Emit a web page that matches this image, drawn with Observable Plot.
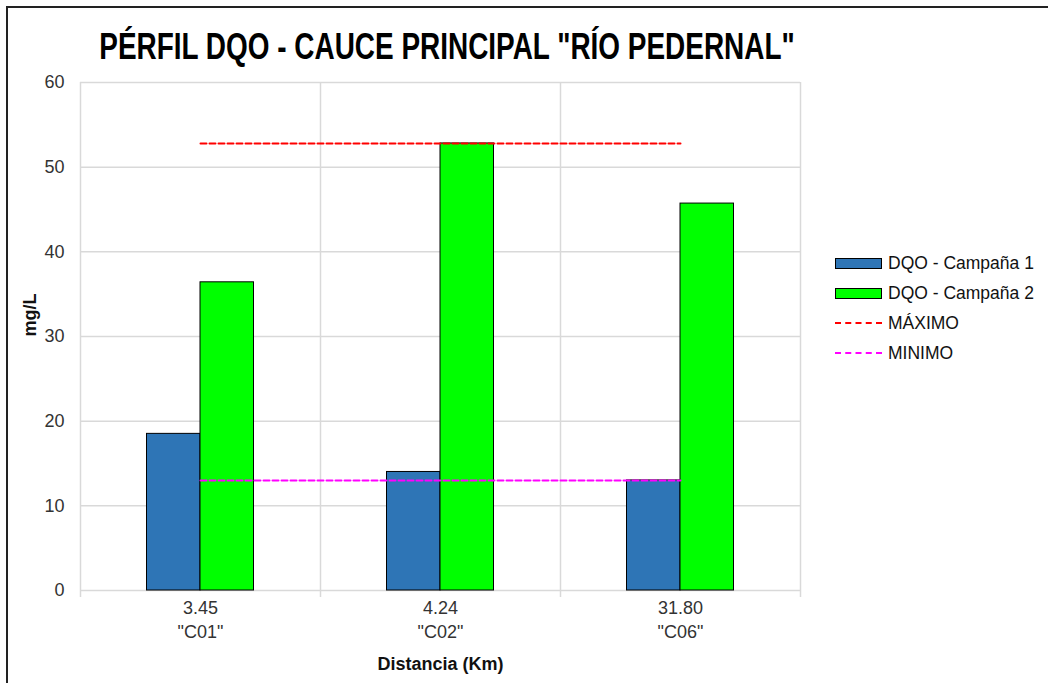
<!DOCTYPE html>
<html>
<head>
<meta charset="utf-8">
<script src="https://cdn.jsdelivr.net/npm/d3@7"></script>
<script src="https://cdn.jsdelivr.net/npm/@observablehq/plot@0.6"></script>
<style>
  html, body { margin: 0; padding: 0; background: #fff; }
  #wrap { position: relative; width: 1048px; height: 683px; overflow: hidden; font-family: "Liberation Sans", Arial, sans-serif; }
  #border { position: absolute; left: 6px; top: 6px; right: -10px; bottom: -10px; border-top: 2px solid #222; border-left: 2px solid #222; }
  #title { position: absolute; left: 447px; top: 26px; white-space: nowrap; font-weight: bold; font-size: 37px; color: #000; transform: translateX(-50%) scaleX(0.755); transform-origin: 50% 0; }
  #legend { position: absolute; left: 835px; top: 248px; font-size: 17.5px; color: #111; }
  .row { height: 30px; display: flex; align-items: center; }
  .sw { width: 47px; height: 11px; border: 1px solid #000; margin-right: 6px; box-sizing: border-box; }
  .dash { width: 47px; height: 0; border-top: 2px dashed; margin-right: 6px; }
  #chart { position: absolute; left: 0; top: 0; }
</style>
</head>
<body>
<div id="wrap">
  <div id="chart"></div>
  <div id="border"></div>
  <div id="title"></div>
  <div id="legend"></div>
</div>
<script>
const titleText = 'PÉRFIL DQO - CAUCE PRINCIPAL "RÍO PEDERNAL"';
const categories = ["C01", "C02", "C06"];
const distances = ["3.45", "4.24", "31.80"];
const campana1 = [18.5, 14.0, 13.0];
const campana2 = [36.4, 52.8, 45.7];
const seriesNames = ["DQO - Campaña 1", "DQO - Campaña 2"];
const seriesColors = ["#2E75B6", "#00FF00"];
const maximo = 52.8;
const minimo = 13.0;
const yTicks = [0, 10, 20, 30, 40, 50, 60];

const W = 1048, H = 683;
const ml = 80, mr = 248, mt = 82, mb = 93;
const step = (W - ml - mr) / categories.length;
const barW = 53.5;
const pad = 1 - barW / step;

const data = [];
categories.forEach((c, i) => {
  data.push({cat: c, serie: seriesNames[0], v: campana1[i]});
  data.push({cat: c, serie: seriesNames[1], v: campana2[i]});
});
const refLines = [
  {name: "MÁXIMO", v: maximo, color: "#FF0000"},
  {name: "MINIMO", v: minimo, color: "#FF00FF"}
];
const lineData = refLines.flatMap(r => categories.map(c => ({cat: c, v: r.v, name: r.name})));
const labelOf = Object.fromEntries(categories.map((c, i) => [c, distances[i] + "\n\"" + c + "\""]));
const font = '"Liberation Sans", Arial, sans-serif';

const chart = Plot.plot({
  width: W, height: H,
  marginLeft: ml, marginRight: mr, marginTop: mt, marginBottom: mb,
  style: {fontFamily: font, fontSize: "18px", color: "#333", background: "transparent"},
  x: {domain: categories, paddingInner: pad, paddingOuter: pad / 2, round: false, label: null},
  y: {domain: [0, 60], label: null},
  color: {domain: seriesNames, range: seriesColors},
  marks: [
    Plot.ruleY(yTicks, {stroke: "#d9d9d9", strokeWidth: 1.5}),
    Plot.ruleX(categories, {x: d => d, dx: -step / 2, stroke: "#d9d9d9", strokeWidth: 1.5, insetBottom: -7}),
    Plot.ruleX(categories.slice(-1), {x: d => d, dx: step / 2, stroke: "#d9d9d9", strokeWidth: 1.5, insetBottom: -7}),
    Plot.barY(data.filter(d => d.serie === seriesNames[0]), {x: "cat", y: "v", fill: "serie", stroke: "#000", strokeWidth: 1, dx: -barW / 2}),
    Plot.barY(data.filter(d => d.serie === seriesNames[1]), {x: "cat", y: "v", fill: "serie", stroke: "#000", strokeWidth: 1, dx: barW / 2}),
    ...refLines.map(r => Plot.lineY(lineData.filter(d => d.name === r.name), {x: "cat", y: "v", stroke: r.color, strokeWidth: 2, strokeDasharray: "6,3"})),
    Plot.axisY({ticks: yTicks, tickSize: 0, tickPadding: 16, fontSize: 18, label: null}),
    Plot.axisX({tickSize: 0, tickPadding: 6, fontSize: 18, lineHeight: 1.35, tickFormat: d => labelOf[d], label: null}),
    Plot.text(["Distancia (Km)"], {frameAnchor: "bottom", dy: 79, fontWeight: "bold", fontSize: 18, fill: "#111"}),
    Plot.text(["mg/L"], {frameAnchor: "left", dx: -50, rotate: -90, fontWeight: "bold", fontSize: 18, fill: "#111"})
  ]
});
document.getElementById("chart").appendChild(chart);
document.getElementById("title").textContent = titleText;

const legend = document.getElementById("legend");
seriesNames.forEach((s, i) => {
  const row = document.createElement("div"); row.className = "row";
  const sw = document.createElement("div"); sw.className = "sw"; sw.style.background = seriesColors[i];
  const t = document.createElement("span"); t.textContent = s;
  row.append(sw, t); legend.append(row);
});
refLines.forEach(r => {
  const row = document.createElement("div"); row.className = "row";
  const sw = document.createElement("div"); sw.className = "dash"; sw.style.borderTopColor = r.color;
  const t = document.createElement("span"); t.textContent = r.name;
  row.append(sw, t); legend.append(row);
});
</script>
</body>
</html>
